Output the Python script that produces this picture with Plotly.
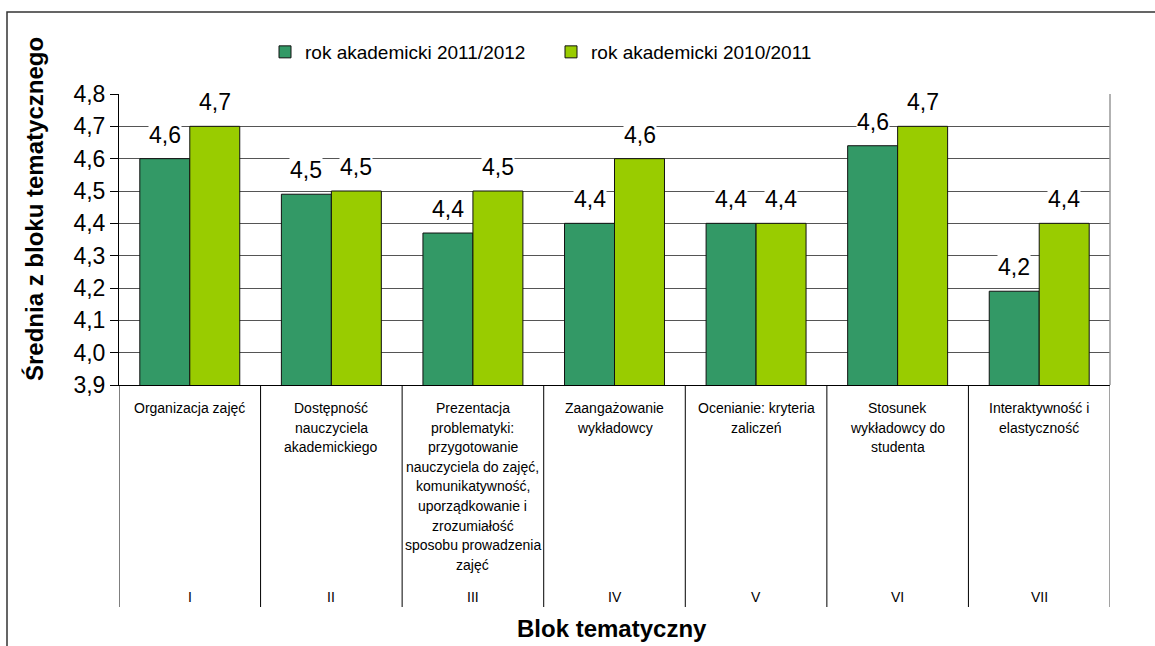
import plotly.graph_objects as go

# ---- data ----
roman = ["I", "II", "III", "IV", "V", "VI", "VII"]
descriptions = [
    ["Organizacja zajęć"],
    ["Dostępność", "nauczyciela", "akademickiego"],
    ["Prezentacja", "problematyki:", "przygotowanie", "nauczyciela do zajęć,",
     "komunikatywność,", "uporządkowanie i", "zrozumiałość", "sposobu prowadzenia", "zajęć"],
    ["Zaangażowanie", "wykładowcy"],
    ["Ocenianie: kryteria", "zaliczeń"],
    ["Stosunek", "wykładowcy do", "studenta"],
    ["Interaktywność i", "elastyczność"],
]
series_names = ["rok akademicki 2011/2012", "rok akademicki 2010/2011"]
values_2011_2012 = [4.60, 4.49, 4.37, 4.40, 4.40, 4.64, 4.19]
values_2010_2011 = [4.70, 4.50, 4.50, 4.60, 4.40, 4.70, 4.40]
y_ticks = [3.9, 4.0, 4.1, 4.2, 4.3, 4.4, 4.5, 4.6, 4.7, 4.8]

FONT = "Liberation Sans, Arial, sans-serif"
DARK = "#339966"
LIGHT = "#99CC00"

# layout geometry (pixels)
W, H = 1155, 646
ML, MR, MT, MB = 119, 45, 94, 261
PH = H - MT - MB
PW = W - ML - MR


def py(p):
    """pixel y -> paper y"""
    return (H - MB - p) / PH


def px(p):
    """pixel x -> paper x"""
    return (p - ML) / PW


fig = go.Figure()
for name, vals, col in [(series_names[0], values_2011_2012, DARK),
                        (series_names[1], values_2010_2011, LIGHT)]:
    fig.add_trace(go.Bar(
        x=roman, y=vals, name=name,
        marker=dict(color=col, line=dict(color="#111111", width=1)),
        hoverinfo="x+y+name",
    ))

annotations = []
# data labels with white background
for vals, shift in [(values_2011_2012, -25), (values_2010_2011, 25)]:
    for cat, v in zip(roman, vals):
        annotations.append(dict(
            x=cat, y=v, xref="x", yref="y", xshift=shift, yshift=24,
            text=f"{v:.1f}".replace(".", ","), showarrow=False,
            yanchor="middle", xanchor="center",
            font=dict(family=FONT, size=23, color="#000"),
            bgcolor="white", borderpad=0,
        ))

# category description lines
for cat, lines in zip(roman, descriptions):
    for j, line in enumerate(lines):
        annotations.append(dict(
            x=cat, y=py(408 + j * 19.6), xref="x", yref="paper",
            text=line, showarrow=False, yanchor="middle", xanchor="center",
            font=dict(family=FONT, size=14, color="#000"),
        ))
    annotations.append(dict(
        x=cat, y=py(597), xref="x", yref="paper",
        text=cat, showarrow=False, yanchor="middle", xanchor="center",
        font=dict(family=FONT, size=14, color="#000"),
    ))

# axis titles
annotations.append(dict(
    x=px(612), y=py(628), xref="paper", yref="paper",
    text="<b>Blok tematyczny</b>", showarrow=False,
    xanchor="center", yanchor="middle",
    font=dict(family=FONT, size=24, color="#000"),
))
annotations.append(dict(
    x=px(34), y=py(209), xref="paper", yref="paper",
    text="<b>Średnia z bloku tematycznego</b>", showarrow=False, textangle=-90,
    xanchor="center", yanchor="middle",
    font=dict(family=FONT, size=24, color="#000"),
))

shapes = []
# category dividers below the axis
for k in range(len(roman) + 1):
    shapes.append(dict(
        type="line", xref="x", yref="paper",
        x0=k - 0.5, x1=k - 0.5, y0=py(607), y1=0,
        line=dict(color="#000" if k < len(roman) else "#444", width=1),
    ))
# right border of plot area (gray)
shapes.append(dict(type="line", xref="paper", yref="paper", x0=1, x1=1, y0=0, y1=1,
                   line=dict(color="#999999", width=1.5)))
# outer chart border
shapes.append(dict(type="rect", xref="paper", yref="paper",
                   x0=px(7), x1=px(1170), y0=py(660), y1=py(12),
                   line=dict(color="#333333", width=1.5), layer="below"))

fig.update_layout(
    width=W, height=H, autosize=False,
    margin=dict(l=ML, r=MR, t=MT, b=MB),
    paper_bgcolor="white", plot_bgcolor="white",
    barmode="group", bargap=0.294, bargroupgap=0,
    separators=", ",
    font=dict(family=FONT, color="#000"),
    showlegend=True,
    legend=dict(
        orientation="h", x=px(265), y=py(52), xanchor="left", yanchor="middle",
        font=dict(family=FONT, size=19, color="#000"),
        entrywidth=241, entrywidthmode="pixels",
        bgcolor="rgba(0,0,0,0)",
    ),
    xaxis=dict(
        type="category", showticklabels=False, ticks="",
        showline=True, linecolor="#000", linewidth=1,
        showgrid=False, zeroline=False, range=[-0.5, len(roman) - 0.5],
    ),
    yaxis=dict(
        range=[y_ticks[0], y_ticks[-1]], tickvals=y_ticks, tickformat=".1f",
        ticks="outside", ticklen=8, tickcolor="#000",
        tickfont=dict(family=FONT, size=23, color="#000"),
        showline=True, linecolor="#000", linewidth=1,
        showgrid=True, gridcolor="#555555", gridwidth=1, zeroline=False,
    ),
    annotations=annotations,
    shapes=shapes,
)

fig.write_html(
    "out.html",
    config={"displayModeBar": False},
    post_script="document.body.style.margin='0px';document.body.style.padding='0px';document.body.style.overflow='hidden';",
)
